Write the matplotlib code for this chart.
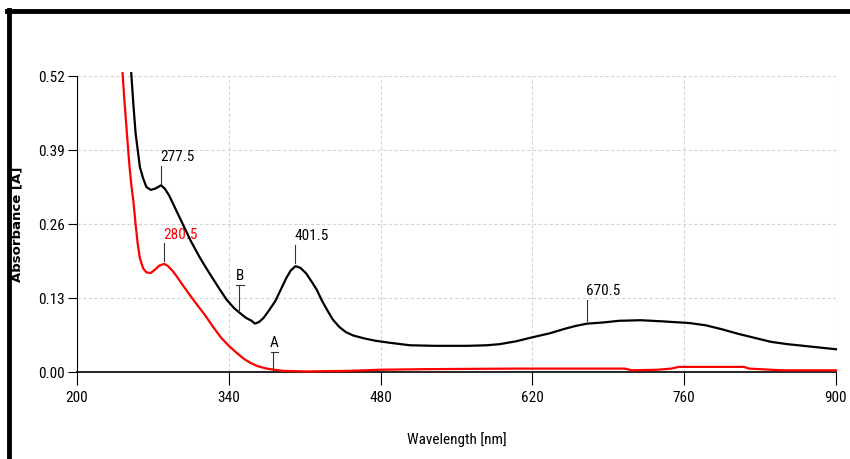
import numpy as np
import matplotlib.pyplot as plt
from matplotlib.lines import Line2D

# spectrum B (black)
wl_b = [250, 252, 254, 256, 258, 261, 264, 268, 272, 277.5, 281, 285, 290, 295, 300,
        305, 313, 320, 330, 338, 345, 350, 356, 361, 364, 368, 372, 377, 383, 388,
        393, 397, 401.5, 406, 411, 416, 421, 426, 431, 436, 442, 448, 455, 465, 475,
        490, 507, 530, 560, 578, 590, 605, 620, 636, 650, 660, 670.5, 685, 700, 720,
        740, 765, 780, 795, 810, 825, 840, 855, 870, 885, 900]
abs_b = [0.525, 0.47, 0.42, 0.39, 0.36, 0.34, 0.325, 0.32, 0.322, 0.328, 0.322, 0.31, 0.29, 0.27, 0.25,
         0.23, 0.202, 0.18, 0.15, 0.127, 0.112, 0.104, 0.095, 0.09, 0.085, 0.088, 0.095, 0.108, 0.125, 0.145,
         0.165, 0.178, 0.186, 0.183, 0.174, 0.16, 0.145, 0.125, 0.108, 0.092, 0.079, 0.07, 0.064, 0.059, 0.055,
         0.051, 0.047, 0.046, 0.046, 0.047, 0.049, 0.054, 0.061, 0.068, 0.076, 0.081, 0.085, 0.087, 0.09, 0.091,
         0.089, 0.086, 0.082, 0.075, 0.067, 0.06, 0.053, 0.049, 0.046, 0.043, 0.04]

# spectrum A (red)
wl_a = [242, 244, 246, 248, 250, 252, 254, 256, 258, 261, 264, 268, 272, 276, 280.5,
        284, 288, 292, 297, 303, 310, 318, 326, 333, 340, 347, 354, 360, 367, 375,
        382, 390, 410, 450, 480, 520, 600, 660, 705, 712, 735, 748, 755, 815, 820,
        850, 900]
abs_a = [0.525, 0.47, 0.42, 0.37, 0.33, 0.3, 0.26, 0.225, 0.2, 0.182, 0.175, 0.174, 0.18, 0.187, 0.19,
         0.186, 0.178, 0.168, 0.154, 0.138, 0.12, 0.1, 0.078, 0.06, 0.046, 0.034, 0.023, 0.016, 0.01, 0.006,
         0.004, 0.002, 0.001, 0.002, 0.004, 0.005, 0.006, 0.006, 0.006, 0.003, 0.004, 0.006, 0.009, 0.009, 0.006,
         0.003, 0.003]

x_ticks = [200, 340, 480, 620, 760, 900]
y_ticks = [0.0, 0.13, 0.26, 0.39, 0.52]

# peak labels: (wavelength, curve value, line top, text, colour)
peaks = [(277.5, 0.328, 0.362, "277.5", "black"),
         (280.5, 0.192, 0.226, "280.5", "red"),
         (401.5, 0.188, 0.223, "401.5", "black"),
         (670.5, 0.087, 0.127, "670.5", "black")]
# curve labels: (wavelength, bottom, top, text)
tags = [(349.5, 0.109, 0.153, "B"), (381, 0.003, 0.035, "A")]

# narrow face if one is there, plain DejaVu otherwise
plt.rcParams['font.family'] = ['Liberation Sans Narrow', 'Roboto Condensed', 'DejaVu Sans']
plt.rcParams['font.stretch'] = 'condensed'
fs = 11

fig = plt.figure(figsize=(8.5, 4.59), dpi=100)
ax = fig.add_axes([0.0906, 0.1895, 0.8929, 0.6449])

ax.plot(wl_a, abs_a, color='red', lw=1.6, clip_on=False, zorder=3)
ax.plot(wl_b, abs_b, color='black', lw=1.6, clip_on=False, zorder=4)

for x, y0, y1, t, c in peaks:
    ax.plot([x, x], [y0 + 0.003, y1], color='#333333', lw=0.8, zorder=5)
    ax.text(x - 1, y1 + 0.003, t, color=c, fontsize=fs, ha='left', va='bottom')

for x, y0, y1, t in tags:
    ax.plot([x, x], [y0, y1], color='#333333', lw=0.8, zorder=5)
    ax.plot([x - 2.5, x + 4.5], [y1, y1], color='#333333', lw=0.8, zorder=5)
    ax.text(x + 1, y1 + 0.004, t, color='black', fontsize=fs, ha='center', va='bottom')

ax.set_xlim(200, 900)
ax.set_ylim(0, 0.52)
ax.set_xticks(x_ticks)
ax.set_yticks(y_ticks)
ax.set_yticklabels(["%.2f" % v for v in y_ticks])
ax.tick_params(axis='x', direction='out', length=9.5, width=0.8, labelsize=fs, pad=4)
ax.tick_params(axis='y', direction='out', length=6.5, width=0.8, labelsize=fs, pad=2)

ax.grid(True, color='#d4d4d4', linestyle=(0, (3, 2)), lw=0.8)
ax.set_axisbelow(True)
for s in ['top', 'right']:
    ax.spines[s].set_visible(False)
ax.spines['left'].set_linewidth(0.8)
ax.spines['bottom'].set_linewidth(1.2)

ax.set_xlabel("Wavelength [nm]", fontsize=fs)
ax.xaxis.set_label_coords(0.5, -0.203)
ax.set_ylabel("Absorbance [A]", fontsize=9.5, fontweight='bold',
              family=['DejaVu Sans'], stretch='normal')
ax.yaxis.set_label_coords(-0.071, 0.5)

# thick frame at top and left of the picture
fig.add_artist(Line2D([0.0106, 0.0106], [0.0, 0.978], color='black', lw=3.5))
fig.add_artist(Line2D([0.008, 1.0], [0.976, 0.976], color='black', lw=3.5))

fig.savefig("out.png", dpi=100)
